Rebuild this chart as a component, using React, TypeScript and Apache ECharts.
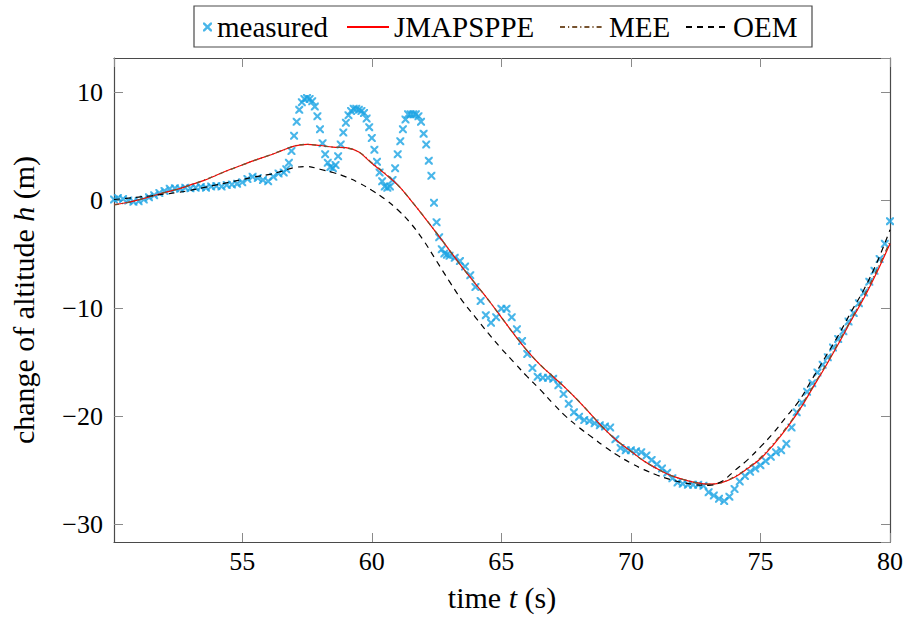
import React, { useEffect, useRef } from "react";
import * as echarts from "echarts";

// measured altitude change (blue x markers)
const measuredT = [
  50.05, 50.2, 50.4, 50.6, 50.8, 51.0, 51.2, 51.4, 51.6, 51.8, 52.0, 52.2, 52.4, 52.6, 52.8,
  53.0, 53.2, 53.4, 53.6, 53.8, 54.0, 54.2, 54.4, 54.6, 54.8, 55.0, 55.2, 55.4, 55.6, 55.8,
  56.0, 56.2, 56.4, 56.6, 56.7, 56.8, 56.9, 57.0, 57.1, 57.2, 57.3, 57.4, 57.5, 57.6, 57.7,
  57.8, 57.9, 58.0, 58.1, 58.2, 58.3, 58.4, 58.5, 58.6, 58.7, 58.8, 58.9, 59.0, 59.1, 59.2,
  59.3, 59.4, 59.5, 59.6, 59.7, 59.8, 59.9, 60.0, 60.1, 60.2, 60.3, 60.4, 60.5, 60.6, 60.7,
  60.8, 60.9, 61.0, 61.1, 61.2, 61.3, 61.4, 61.5, 61.6, 61.7, 61.8, 61.9, 62.0, 62.1, 62.2,
  62.3, 62.4, 62.5, 62.6, 62.7, 62.8, 62.9, 63.0, 63.2, 63.4, 63.6, 63.8, 64.0, 64.2, 64.4,
  64.6, 64.8, 65.0, 65.2, 65.4, 65.6, 65.8, 66.0, 66.2, 66.4, 66.6, 66.8, 67.0, 67.2, 67.4,
  67.6, 67.8, 68.0, 68.2, 68.4, 68.6, 68.8, 69.0, 69.2, 69.4, 69.6, 69.8, 70.0, 70.2, 70.4,
  70.6, 70.8, 71.0, 71.2, 71.4, 71.6, 71.8, 72.0, 72.2, 72.4, 72.6, 72.8, 73.0, 73.2, 73.4,
  73.6, 73.8, 74.0, 74.2, 74.4, 74.6, 74.8, 75.0, 75.2, 75.4, 75.6, 75.8, 76.0, 76.2, 76.4,
  76.6, 76.8, 77.0, 77.2, 77.4, 77.6, 77.8, 78.0, 78.2, 78.4, 78.6, 78.8, 79.0, 79.2, 79.4,
  79.6, 79.8, 80.0,
];
const measuredH = [
  0.1, 0.25, 0.15, 0.0, -0.1, -0.05, 0.1, 0.3, 0.5, 0.7, 0.9, 1.1, 1.15, 1.1, 1.2,
  1.15, 1.2, 1.25, 1.2, 1.3, 1.35, 1.3, 1.45, 1.5, 1.55, 1.7, 2.0, 2.2, 2.1, 1.9,
  1.8, 2.2, 2.5, 2.6, 2.9, 3.5, 4.6, 6.0, 7.3, 8.4, 9.1, 9.4, 9.5, 9.4, 9.2,
  8.7, 7.8, 6.6, 5.3, 4.3, 3.5, 3.1, 3.0, 3.3, 4.1, 5.2, 6.3, 7.2, 7.9, 8.3,
  8.5, 8.5, 8.4, 8.3, 8.1, 7.6, 6.8, 5.8, 4.7, 3.6, 2.6, 1.8, 1.3, 1.2, 1.3,
  1.9, 3.0, 4.3, 5.5, 6.6, 7.5, 8.0, 8.0, 8.0, 8.0, 7.8, 7.3, 6.2, 5.2, 3.7,
  2.3, -0.2, -2.0, -3.4, -4.5, -4.9, -5.0, -5.1, -5.3, -5.6, -6.1, -6.9, -8.0, -9.3, -10.6,
  -11.3, -10.8, -10.0, -10.0, -10.8, -11.9, -13.0, -14.2, -15.5, -16.3, -16.4, -16.4, -16.5, -17.1, -17.9,
  -18.8, -19.6, -20.0, -20.3, -20.4, -20.6, -20.8, -20.9, -21.0, -22.1, -22.9, -23.1, -23.1, -23.2, -23.3,
  -23.6, -24.0, -24.4, -24.8, -25.2, -25.7, -26.1, -26.2, -26.3, -26.3, -26.3, -26.4, -27.0, -27.3, -27.6,
  -27.8, -27.4, -26.7, -26.0, -25.5, -25.1, -24.8, -24.5, -24.1, -23.7, -23.3, -23.1, -22.5, -21.0, -19.6,
  -18.7, -17.7, -16.9, -15.9, -15.2, -14.5, -13.6, -12.8, -12.1, -11.2, -10.4, -9.5, -8.5, -7.5, -6.5,
  -5.4, -4.0, -1.9,
];

// estimated trajectories
const fitT = [
  50.05, 50.5, 51.0, 51.5, 52.0, 52.5, 53.0, 53.5, 54.0, 54.5, 55.0, 55.5, 56.0, 56.5, 57.0,
  57.5, 58.0, 58.5, 59.0, 59.5, 60.0, 60.5, 61.0, 61.5, 62.0, 62.5, 63.0, 63.5, 64.0, 64.5,
  65.0, 65.5, 66.0, 66.5, 67.0, 67.5, 68.0, 68.5, 69.0, 69.5, 70.0, 70.5, 71.0, 71.5, 72.0,
  72.5, 73.0, 73.5, 74.0, 74.5, 75.0, 75.5, 76.0, 76.5, 77.0, 77.5, 78.0, 78.5, 79.0, 79.5,
  80.0,
];
const jmapsppeH = [
  -0.37, -0.2, 0.08, 0.4, 0.75, 1.05, 1.45, 1.85, 2.35, 2.85, 3.3, 3.75, 4.15, 4.6, 5.05,
  5.2, 5.1, 4.95, 4.9, 4.5, 3.45, 2.5, 1.45, 0.05, -1.45, -3.0, -4.6, -6.2, -7.7, -9.2,
  -10.8, -12.4, -13.9, -15.2, -16.3, -17.4, -18.6, -19.9, -21.2, -22.3, -23.2, -24.1, -24.8, -25.4, -25.8,
  -26.1, -26.25, -26.1, -25.6, -24.8, -23.9, -22.6, -21.1, -19.4, -17.4, -15.4, -13.3, -11.1, -9.0, -6.6,
  -4.0,
];
const meeH = [
  -0.4, -0.22, 0.06, 0.42, 0.75, 1.07, 1.45, 1.87, 2.35, 2.85, 3.3, 3.75, 4.17, 4.6, 5.05,
  5.2, 5.1, 4.95, 4.88, 4.5, 3.5, 2.55, 1.45, 0.05, -1.45, -3.0, -4.6, -6.2, -7.7, -9.2,
  -10.8, -12.4, -13.9, -15.2, -16.3, -17.4, -18.6, -19.9, -21.2, -22.3, -23.2, -24.1, -24.8, -25.4, -25.8,
  -26.1, -26.25, -26.1, -25.55, -24.75, -23.8, -22.5, -21.0, -19.3, -17.3, -15.3, -13.2, -11.0, -8.8, -6.4,
  -3.8,
];
const oemH = [
  0.1, 0.2, 0.33, 0.45, 0.6, 0.75, 0.95, 1.2, 1.45, 1.7, 1.95, 2.2, 2.4, 2.7, 3.05,
  3.15, 2.9, 2.6, 2.2, 1.65, 0.95, 0.15, -0.85, -2.1, -3.7, -5.6, -7.5, -9.3, -10.8, -12.3,
  -13.7, -15.0, -16.3, -17.5, -18.8, -20.0, -21.0, -21.9, -22.8, -23.6, -24.3, -24.9, -25.4, -25.8, -26.1,
  -26.3, -26.35, -26.0, -25.0, -24.0, -22.8, -21.5, -20.0, -18.5, -16.5, -14.5, -12.5, -10.3, -8.2, -5.7,
  -2.7,
];

const xMin = 50.05;
const xMax = 80;
const yMin = -31.6;
const yMax = 13.2;

const FONT = "Liberation Serif";
const CYAN = "#1ca4e4";
const XMARK = "path://M0,0L1.9,0L5,3.1L8.1,0L10,0L10,1.9L6.9,5L10,8.1L10,10L8.1,10L5,6.9L1.9,10L0,10L0,8.1L3.1,5L0,1.9Z";

const fmtTick = (v: number) => {
  const r = Math.abs(v % 5);
  if (r > 1e-6 && Math.abs(r - 5) > 1e-6) return "";
  return v < 0 ? "\u2212" + String(Math.abs(v)) : String(v);
};

export default function App() {
  const ref = useRef<HTMLDivElement>(null);
  useEffect(() => {
    document.body.style.margin = "0";
    if (!ref.current) return;
    const chart = echarts.init(ref.current, undefined, { renderer: "svg" });
    const zip = (t: number[], h: number[]) => t.map((x, i) => [x, h[i]]);
    const axisLine = { show: true, onZero: false, lineStyle: { color: "#4a4a4a", width: 1.2 } };
    const axisTick = { show: true, inside: true, length: 9, lineStyle: { color: "#8a8a8a", width: 1 } };
    const legendText = { fontFamily: FONT, fontSize: 29, color: "#000", lineHeight: 30 };
    const nameStyle = {
      fontFamily: FONT,
      fontSize: 30,
      color: "#000",
      rich: {
        n: { fontFamily: FONT, fontSize: 30, color: "#000" },
        i: { fontFamily: FONT, fontSize: 30, fontStyle: "italic", color: "#000" },
      },
    };
    const lineLegend = (name: string, left: number, w: number) => ({
      data: [name],
      left,
      top: 7,
      itemWidth: w,
      itemHeight: 14,
      itemStyle: { opacity: 0 },
      textStyle: legendText,
      selectedMode: false,
    });
    chart.setOption({
      animation: false,
      backgroundColor: "#fff",
      grid: { left: 113, right: 12, top: 58, bottom: 78, containLabel: false },
      xAxis: [
        {
          type: "value",
          min: xMin,
          max: xMax,
          splitNumber: 6,
          position: "bottom",
          axisLine,
          axisTick,
          splitLine: { show: false },
          axisLabel: {
            showMinLabel: false,
            margin: 6,
            fontFamily: FONT,
            fontSize: 26,
            color: "#000",
            formatter: fmtTick,
          },
          name: "{n|time }{i|t}{n| (s)}",
          nameLocation: "middle",
          nameGap: 40,
          nameTextStyle: nameStyle,
        },
        {
          type: "value",
          min: xMin,
          max: xMax,
          splitNumber: 6,
          position: "top",
          axisLine,
          axisTick,
          splitLine: { show: false },
          axisLabel: { show: false },
        },
      ],
      yAxis: [
        {
          type: "value",
          min: yMin,
          max: yMax,
          splitNumber: 5,
          position: "left",
          axisLine,
          axisTick,
          splitLine: { show: false },
          axisLabel: {
            showMinLabel: false,
            showMaxLabel: false,
            margin: 11,
            fontFamily: FONT,
            fontSize: 26,
            color: "#000",
            formatter: fmtTick,
          },
          name: "{n|change of altitude }{i|h}{n| (m)}",
          nameLocation: "middle",
          nameGap: 76,
          nameRotate: 90,
          nameTextStyle: nameStyle,
        },
        {
          type: "value",
          min: yMin,
          max: yMax,
          splitNumber: 5,
          position: "right",
          axisLine,
          axisTick,
          splitLine: { show: false },
          axisLabel: { show: false },
        },
      ],
      legend: [
        {
          data: [{ name: "measured", icon: XMARK }],
          left: 198,
          top: 7,
          itemWidth: 9,
          itemHeight: 9,
          textStyle: legendText,
          selectedMode: false,
        },
        lineLegend("JMAPSPPE", 341, 42),
        lineLegend("MEE", 554, 44),
        lineLegend("OEM", 680, 42),
      ],
      graphic: [
        {
          type: "rect",
          shape: { x: 194, y: 6, width: 618, height: 41 },
          style: { fill: "none", stroke: "#4a4a4a", lineWidth: 1.2 },
          z: 100,
        },
      ],
      series: [
        {
          name: "measured",
          type: "scatter",
          data: zip(measuredT, measuredH),
          symbol: XMARK,
          symbolSize: 8,
          itemStyle: { color: CYAN },
          z: 2,
        },
        {
          name: "JMAPSPPE",
          type: "line",
          data: zip(fitT, jmapsppeH),
          symbol: "none",
          smooth: 0.4,
          lineStyle: { color: "#ff0000", width: 1.2 },
          itemStyle: { color: "#ff0000" },
          z: 3,
        },
        {
          name: "MEE",
          type: "line",
          data: zip(fitT, meeH),
          symbol: "none",
          smooth: 0.4,
          lineStyle: { color: "#76522e", width: 1.3, type: [5, 3, 1.2, 3] },
          itemStyle: { color: "#76522e" },
          z: 4,
        },
        {
          name: "OEM",
          type: "line",
          data: zip(fitT, oemH),
          symbol: "none",
          smooth: 0.4,
          lineStyle: { color: "#000000", width: 1.2, type: [6, 5] },
          itemStyle: { color: "#000000" },
          z: 5,
        },
      ],
    });
    return () => chart.dispose();
  }, []);
  return <div ref={ref} style={{ width: 906, height: 620 }} />;
}
